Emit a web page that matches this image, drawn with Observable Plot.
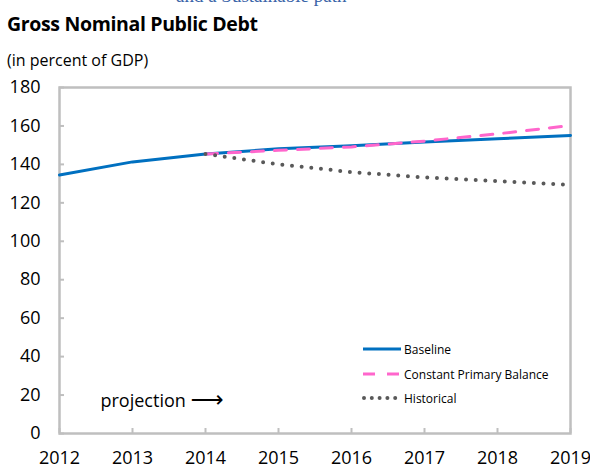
<!DOCTYPE html>
<html><head><meta charset="utf-8">
<script src="https://cdn.jsdelivr.net/npm/d3@7"></script>
<script src="https://cdn.jsdelivr.net/npm/@observablehq/plot@0.6"></script>
<style>
body{margin:0;background:#fff;}
#wrap{position:relative;width:590px;height:468px;overflow:hidden;font-family:"Open Sans",sans-serif;color:#000;}
#cut{position:absolute;left:176px;top:-14px;font-family:"Liberation Serif",serif;font-size:19px;line-height:20px;color:#3a64a8;white-space:nowrap;}
#title{position:absolute;left:7px;top:13px;font-size:19.5px;font-weight:700;line-height:22px;white-space:nowrap;letter-spacing:-0.35px;}
#sub{position:absolute;left:7px;top:50px;font-size:16px;line-height:20px;white-space:nowrap;}
#chart{position:absolute;left:0;top:66px;}
.leg{position:absolute;left:362px;height:16px;display:flex;align-items:center;font-size:12px;white-space:nowrap;}
.leg svg{margin-right:2px;}
</style></head><body>
<div id="wrap">
<div id="cut">and a Sustainable path</div>
<div id="title">Gross Nominal Public Debt</div>
<div id="sub">(in percent of GDP)</div>
<div id="chart"></div>
<div class="leg" style="top:341px"><svg width="40" height="16"><line x1="1" y1="8" x2="39" y2="8" stroke="#0070c0" stroke-width="3"/></svg>Baseline</div>
<div class="leg" style="top:366px"><svg width="40" height="16"><line x1="1" y1="8" x2="39" y2="8" stroke="#ff66cc" stroke-width="3" stroke-dasharray="12 12"/></svg>Constant Primary Balance</div>
<div class="leg" style="top:390px"><svg width="40" height="16"><line x1="2" y1="8" x2="36" y2="8" stroke="#595959" stroke-width="4" stroke-linecap="round" stroke-dasharray="0 7.8"/></svg>Historical</div>
</div>
<script>
const years = [2012, 2013, 2014, 2015, 2016, 2017, 2018, 2019];
const baseline = [134.5, 141.3, 145.4, 148.1, 149.7, 151.6, 153.3, 155.0];
const projYears = [2014, 2015, 2016, 2017, 2018, 2019];
const constantPrimary = [145.4, 147.3, 149.1, 152.1, 155.9, 160.2];
const historical = [145.4, 140.0, 136.0, 133.2, 131.3, 129.4];
const yTicks = [0, 20, 40, 60, 80, 100, 120, 140, 160, 180];
const annotation = ["projection"];
const arrowGlyph = ["\u27F6"];

const baseData = years.map((x, i) => ({x, y: baseline[i]}));
const cpbData = projYears.map((x, i) => ({x, y: constantPrimary[i]}));
const histData = projYears.map((x, i) => ({x, y: historical[i]}));

const grey = "#bfbfbf";
const plot = Plot.plot({
  width: 590, height: 402,
  marginTop: 21, marginBottom: 35, marginLeft: 59, marginRight: 20,
  style: {fontFamily: "Open Sans", fontSize: "18px", color: "#000", background: "transparent"},
  x: {domain: [2012, 2019], label: null},
  y: {domain: [0, 180], label: null},
  marks: [
    Plot.axisX({ticks: years, tickFormat: "d", tickSize: -5, tickPadding: 23, stroke: grey, fill: "#000", strokeWidth: 2, label: null, fontSize: 18}),
    Plot.axisY({ticks: yTicks, tickSize: -5, tickPadding: 24, stroke: grey, fill: "#000", strokeWidth: 2, label: null, fontSize: 18}),
    Plot.frame({stroke: grey, strokeWidth: 2.5}),
    Plot.line(baseData, {x: "x", y: "y", stroke: "#0070c0", strokeWidth: 3}),
    Plot.line(cpbData, {x: "x", y: "y", stroke: "#ff66cc", strokeWidth: 3, strokeDasharray: "12 11"}),
    Plot.line(histData, {x: "x", y: "y", stroke: "#595959", strokeWidth: 4, strokeLinecap: "round", strokeDasharray: "0 9.7"}),
    Plot.text(annotation, {frameAnchor: "bottom-left", dx: 41, dy: -27, textAnchor: "start", fontSize: 18, fill: "#000"}),
    Plot.text(arrowGlyph, {frameAnchor: "bottom-left", dx: 131, dy: -27, textAnchor: "start", fontSize: 23, fontFamily: "DejaVu Sans", fill: "#000"})
  ]
});
document.getElementById("chart").appendChild(plot);
</script>
</body></html>
